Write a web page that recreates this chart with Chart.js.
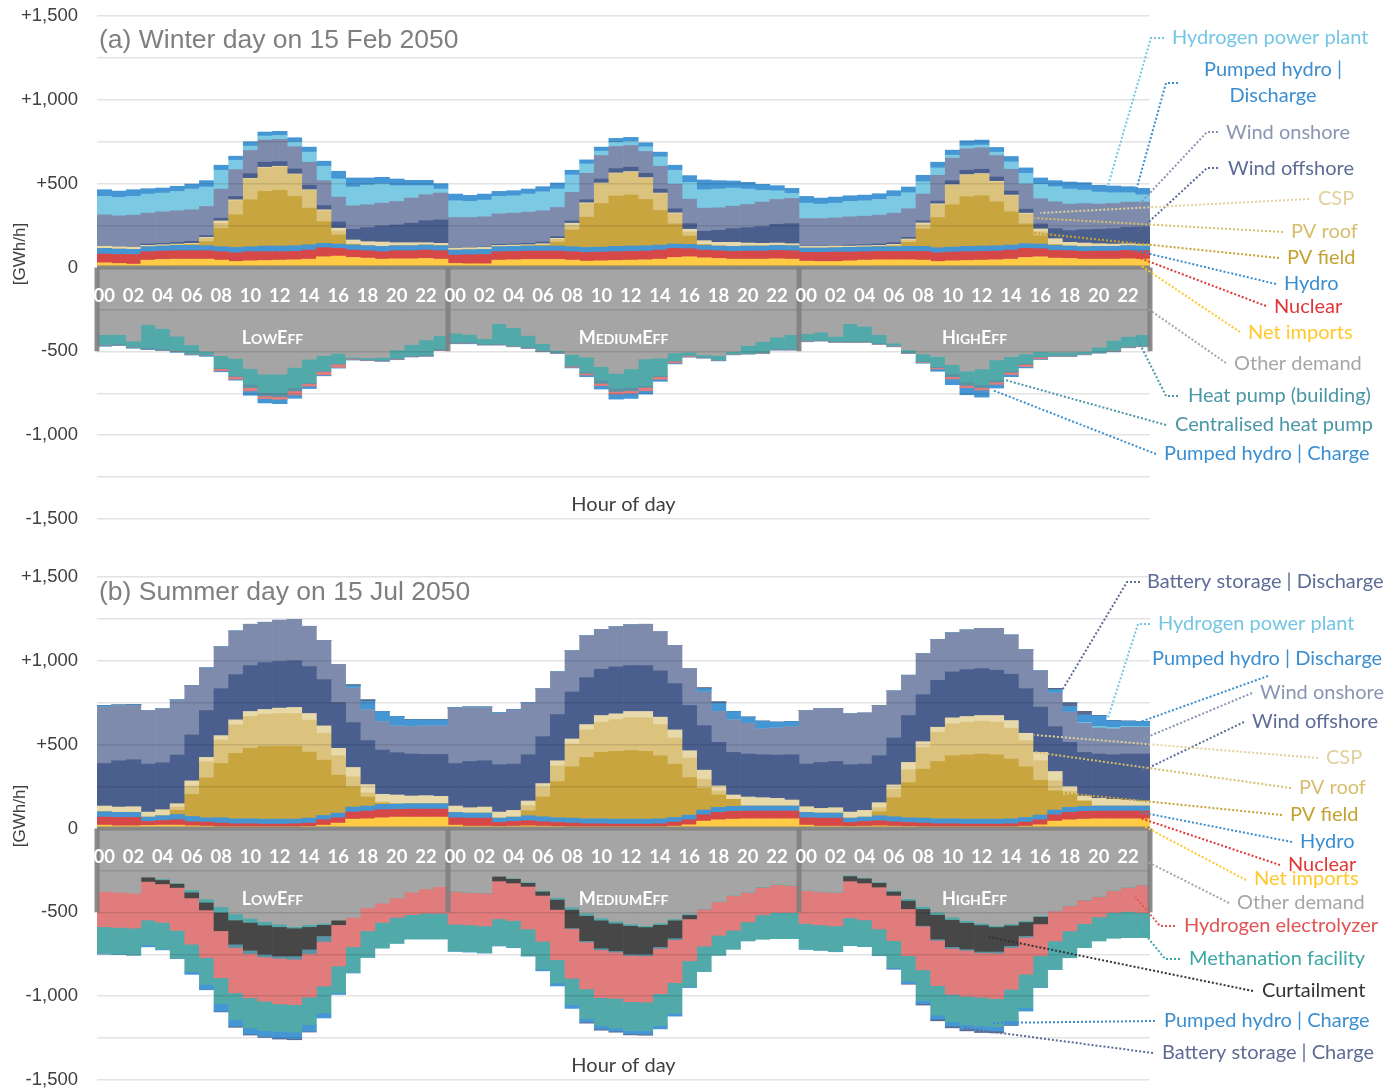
<!DOCTYPE html>
<html><head><meta charset="utf-8">
<script src="https://cdn.jsdelivr.net/npm/chart.js@4.4.1/dist/chart.umd.min.js"></script>
<style>
html,body{margin:0;padding:0;background:#fff;}
#wrap{position:relative;width:1400px;height:1090px;overflow:hidden;}
.panel{position:absolute;left:0;width:1400px;}
</style></head><body>
<div id="wrap">
<div class="panel" style="top:0;height:545px"><canvas id="cA"></canvas></div>
<div class="panel" style="top:545px;height:555px"><canvas id="cB"></canvas></div>
</div>
<script>
// ---------- categories / ticks ----------
const scenarioNames = ['LowEff', 'MediumEff', 'HighEff'];
const hourTicks = ['00','01','02','03','04','05','06','07','08','09','10','11','12','13','14','15','16','17','18','19','20','21','22','23'];
const HOURS = hourTicks.length;
const categories = scenarioNames.flatMap(s => hourTicks.map(h => s + ' ' + h));
const yTickValues = [-1500, -1000, -500, 0, 500, 1000, 1500];

// ---------- (a) winter, GWh/h, LowEff | MediumEff | HighEff ----------
const winNetImports = [
 28,24,20,44,48,50,50,50,44,36,40,42,44,46,50,64,68,60,56,50,52,52,54,50,
 24,22,22,44,46,48,48,48,44,38,40,42,44,46,50,60,64,58,54,50,50,50,52,50,
 38,36,36,40,44,46,46,46,44,36,40,42,44,46,50,60,64,56,54,50,50,50,52,50];
const winNuclear = [
 52,54,58,50,50,50,50,50,50,52,54,52,50,50,54,54,46,44,44,44,48,48,50,50,
 50,54,56,50,50,50,50,50,50,52,52,52,52,52,54,54,48,46,46,46,48,48,50,50,
 52,54,56,52,50,50,50,50,52,52,52,52,52,52,54,54,48,46,46,46,48,48,50,50];
const winHydro = [
 34,32,30,30,30,32,32,30,30,32,30,34,34,34,32,26,26,30,30,32,30,30,30,30,
 30,30,30,30,30,30,30,30,30,30,30,32,32,32,30,26,26,28,28,30,30,30,30,30,
 26,26,26,28,28,28,28,30,30,30,30,32,32,32,30,28,28,30,28,28,28,28,28,28];
const winPVField = [
 0,0,0,0,0,2,4,24,110,194,280,326,332,294,218,130,54,4,0,0,0,0,0,0,
 0,0,0,0,0,2,4,24,100,180,260,300,304,276,206,120,50,4,0,0,0,0,0,0,
 0,0,0,0,0,2,4,24,104,180,252,296,300,262,198,118,50,4,0,0,0,0,0,0];
const winPVRoof = [
 0,0,0,0,0,0,4,20,30,84,124,140,140,130,106,64,24,2,0,0,0,0,0,0,
 0,0,0,0,0,0,4,16,28,80,118,134,136,126,100,60,24,2,0,0,0,0,0,0,
 0,0,0,0,0,0,4,14,24,76,116,128,128,118,96,58,24,2,0,0,0,0,0,0];
const winCSP = [
 14,14,14,8,8,6,4,6,14,6,4,4,4,4,4,6,16,24,24,26,18,18,14,14,
 12,12,12,8,8,6,6,6,12,6,4,4,4,4,4,6,16,22,22,24,18,16,14,12,
 10,10,10,8,8,6,6,6,12,6,4,4,4,4,4,6,16,34,22,22,16,14,12,10];
const winWindOffshore = [
 2,2,2,8,8,10,12,10,16,20,28,30,28,30,26,26,38,64,84,96,106,116,132,140,
 2,2,2,6,6,8,10,10,14,18,24,26,26,26,24,24,34,56,72,82,92,100,112,120,
 2,2,2,6,6,8,10,10,12,16,24,26,26,26,24,24,30,60,70,80,86,92,98,104];
const winWindOnshore = [
 184,182,188,184,188,188,188,174,174,160,138,132,132,132,138,148,148,140,136,136,140,150,154,160,
 180,178,180,182,184,186,186,174,170,158,140,132,130,130,136,146,146,138,134,134,138,146,148,150,
 164,164,166,168,170,172,176,170,160,154,134,128,128,128,130,150,150,160,158,156,150,150,150,148];
const winH2Plant = [
 110,110,112,114,112,116,124,116,112,56,26,24,24,28,60,86,108,112,118,114,94,74,54,24,
 100,96,100,104,104,108,114,110,104,56,26,24,24,28,56,84,100,110,112,108,92,70,52,30,
 92,86,88,92,92,94,100,96,74,44,18,18,16,20,44,64,86,90,90,80,72,64,56,44];
const winPumpedDischarge = [
 40,38,40,32,30,30,30,38,30,24,26,24,24,26,30,30,46,54,42,40,40,32,32,32,
 40,36,36,30,30,30,30,36,28,24,24,24,24,24,28,30,40,58,50,42,40,36,30,30,
 40,36,36,34,34,34,34,34,38,34,30,30,30,28,32,32,38,36,42,44,40,40,36,38];
const winOtherDemand = [
 -400,-400,-440,-340,-364,-410,-462,-500,-526,-542,-602,-636,-636,-596,-546,-526,-512,-536,-540,-536,-492,-460,-432,-406,
 -391,-399,-425,-335,-359,-405,-455,-495,-519,-535,-591,-631,-605,-545,-541,-509,-505,-521,-525,-501,-465,-441,-415,-401,
 -395,-385,-411,-335,-351,-401,-451,-491,-515,-531,-579,-619,-605,-551,-531,-515,-501,-505,-505,-501,-475,-435,-411,-401];
const winHeatPump = [
 -60,-56,-32,-140,-122,-86,-50,-20,-74,-104,-94,-110,-114,-120,-140,-90,-60,-6,-8,-16,-50,-66,-88,-80,
 -54,-46,-30,-120,-106,-70,-40,-10,-66,-90,-80,-88,-110,-160,-104,-46,-20,-14,-26,-14,-46,-64,-70,-84,
 -40,-46,-28,-104,-88,-50,-14,-14,-44,-60,-56,-66,-94,-120,-88,-56,-30,-20,-20,-14,-30,-60,-60,-64];
const winCentralHP = [
 -4,-4,-4,-4,-4,-4,-4,-4,-4,-4,-20,-20,-20,-20,-6,-4,-4,-4,-4,-4,-4,-4,-6,-6,
 -4,-4,-4,-4,-4,-4,-4,-4,-4,-6,-20,-20,-20,-10,-6,-4,-2,-2,-2,-2,-2,-4,-4,-4,
 -4,-4,-4,-4,-4,-4,-4,-4,-4,-6,-16,-18,-18,-12,-6,-6,-4,-2,-2,-2,-2,-4,-4,-4];
const winElectrolyzer = [
 -2,-2,-2,-2,-2,-2,-2,-2,-12,-16,-20,-16,-16,-24,-16,-20,-20,-4,-2,-2,-2,-2,-2,-2,
 -2,-2,-2,-2,-2,-2,-2,-2,-6,-10,-14,-16,-16,-20,-16,-10,-6,-2,-2,-2,-2,-2,-2,-2,
 -2,-2,-2,-2,-2,-2,-2,-2,-4,-8,-14,-14,-14,-14,-14,-14,-10,-2,-2,-2,-2,-2,-2,-2];
const winPumpedCharge = [
 -4,-4,-4,-4,-4,-4,-4,-4,-6,-6,-26,-26,-26,-20,-14,-6,-4,-2,-2,-2,-2,-2,-2,-2,
 -4,-4,-2,-2,-2,-2,-2,-2,-4,-10,-20,-30,-30,-20,-12,-6,-2,-2,-2,-2,-2,-2,-2,-2,
 -2,-2,-2,-2,-2,-2,-2,-2,-4,-14,-34,-42,-42,-22,-12,-8,-4,-2,-2,-2,-2,-2,-2,-2];

// ---------- (b) summer ----------
const sumNetImports = [
 20,16,16,18,20,20,16,14,10,10,10,10,10,10,12,20,32,56,58,64,68,68,68,68,
 20,14,14,12,14,16,14,12,10,10,10,10,10,10,10,14,22,44,52,56,58,58,58,58,
 20,14,14,12,14,16,14,12,10,10,10,10,10,10,10,14,22,44,52,56,58,58,58,58];
const sumNuclear = [
 48,50,50,24,28,32,24,24,22,18,18,16,16,18,20,32,32,42,46,48,46,48,48,48,
 44,48,48,24,28,30,26,24,22,18,18,16,16,16,18,24,30,38,44,46,46,46,46,46,
 44,48,48,24,28,30,26,24,22,18,18,16,16,16,18,24,30,38,44,46,46,46,46,46];
const sumHydro = [
 32,30,30,26,28,32,32,26,32,30,30,30,30,28,30,26,28,30,30,32,32,32,32,32,
 32,30,30,26,26,30,30,28,30,30,30,30,30,30,30,28,28,28,30,30,30,30,30,30,
 32,30,30,26,26,30,30,28,30,30,30,30,30,30,30,28,28,28,30,30,30,30,30,30];
const sumPVField = [
 0,0,0,0,0,24,132,238,324,390,420,434,434,434,394,330,226,120,54,8,0,0,0,0,
 0,0,0,0,0,30,118,216,306,366,396,404,408,404,376,318,224,130,74,42,0,0,0,0,
 0,0,0,0,0,24,114,210,292,342,376,384,388,384,356,302,208,114,74,32,0,0,0,0];
const sumPVRoof = [
 0,0,0,0,0,20,50,96,140,170,190,192,196,196,190,160,116,60,24,6,0,0,0,0,
 0,0,0,0,0,30,56,94,136,164,180,190,196,200,186,156,116,54,24,0,0,0,0,0,
 0,0,0,0,0,24,50,76,130,174,190,194,196,194,184,156,116,60,24,0,0,0,0,0];
const sumCSP = [
 34,32,34,30,36,20,30,26,26,30,30,28,32,36,40,44,44,56,50,46,54,46,48,44,
 38,32,36,36,40,28,24,30,30,32,40,34,38,38,44,48,44,54,30,26,54,50,46,36,
 34,28,32,36,40,30,26,44,34,30,36,34,34,40,46,44,50,56,26,30,46,40,36,30];
const sumWindOffshore = [
 254,276,280,286,280,290,274,280,280,270,274,280,278,278,280,276,274,268,262,264,252,250,246,250,
 254,276,276,282,276,276,280,276,280,280,276,280,274,274,276,276,270,266,260,254,256,256,258,270,
 254,274,276,282,276,280,280,280,280,280,274,280,280,270,276,266,270,268,264,260,264,266,274,280];
const sumWindOnshore = [
 336,328,324,320,322,330,296,254,250,260,246,240,246,246,240,234,226,206,184,170,160,164,170,170,
 330,320,316,308,320,308,286,254,246,250,238,240,244,246,234,228,220,200,184,194,184,154,162,168,
 320,320,316,304,304,300,280,240,246,244,234,236,240,250,234,234,216,200,180,174,156,154,160,160];
const sumH2Plant = [
 0,0,0,0,0,0,0,0,0,0,0,0,0,0,0,0,0,0,0,0,0,0,0,0,
 0,0,0,0,0,0,0,0,0,0,0,0,0,0,0,0,0,0,0,0,0,0,0,0,
 0,0,0,0,0,0,0,0,0,0,0,0,0,0,0,0,0,0,0,4,8,8,6,4];
const sumPumpedDischarge = [
 8,4,4,0,0,0,0,0,0,0,0,0,0,0,0,0,0,14,50,60,56,40,36,36,
 4,4,4,4,4,4,0,0,0,0,0,0,0,0,0,0,0,20,50,50,36,46,34,30,
 0,0,0,0,0,0,0,0,0,0,0,0,0,0,0,0,0,20,34,46,64,40,30,30];
const sumBatteryDischarge = [
 0,0,0,0,0,0,0,0,0,0,0,0,0,0,0,0,0,4,8,0,0,0,0,0,
 0,0,0,0,0,0,0,0,0,0,0,0,0,0,0,0,0,4,6,0,0,0,0,0,
 0,0,0,0,0,0,0,0,0,0,0,0,0,0,0,0,0,6,20,20,0,0,0,0];
const sumOtherDemand = [
 -376,-380,-386,-290,-300,-324,-366,-420,-466,-510,-536,-556,-570,-586,-574,-566,-546,-530,-474,-446,-414,-380,-360,-346,
 -373,-379,-383,-285,-295,-319,-369,-413,-469,-505,-533,-553,-569,-579,-565,-539,-509,-479,-435,-399,-379,-349,-333,-339,
 -369,-375,-379,-279,-293,-319,-369,-419,-465,-499,-529,-549,-565,-579,-569,-549,-519,-489,-459,-425,-405,-369,-349,-335];
const sumHeatPump = [
 0,0,0,0,-6,-4,-14,-20,-34,-36,-24,-20,-16,-8,-12,-8,0,0,0,0,0,0,0,0,
 -2,-2,-2,0,-4,-4,-6,-10,-14,-14,-14,-12,-10,-8,-8,-8,-6,-2,-2,-2,-2,-2,-2,-2,
 -2,-2,-2,-4,-4,-4,-6,-10,-14,-14,-14,-12,-10,-8,-8,-8,-6,-2,-2,-2,-2,-2,-2,-2];
const sumCurtailment = [
 0,0,0,-26,-24,-24,-34,-46,-110,-144,-166,-174,-174,-166,-134,-66,-28,0,0,0,0,0,0,0,
 0,0,0,-28,-26,-22,-24,-60,-110,-150,-166,-164,-170,-162,-132,-106,-24,0,0,0,0,0,0,0,
 0,0,0,-30,-28,-26,-24,-50,-100,-146,-162,-158,-158,-146,-122,-82,-44,0,0,0,0,0,0,0];
const sumCentralHP = [
 0,0,0,0,0,0,0,0,0,-20,-20,-16,-14,-20,-26,-34,0,0,0,0,0,0,0,0,
 0,0,0,0,0,0,0,0,-4,-8,-10,-8,-8,-10,-10,-10,0,0,0,0,0,0,0,0,
 0,0,0,0,0,0,0,0,-4,-8,-10,-8,-8,-10,-10,-10,0,0,0,0,0,0,0,0];
const sumElectrolyzer = [
 -210,-210,-208,-230,-230,-256,-276,-284,-280,-270,-264,-264,-272,-270,-260,-266,-246,-176,-136,-114,-116,-134,-146,-160,
 -196,-194,-196,-226,-224,-254,-274,-300,-296,-280,-286,-276,-276,-276,-270,-256,-250,-220,-200,-206,-176,-164,-166,-160,
 -196,-198,-200,-220,-220,-250,-270,-280,-260,-270,-274,-274,-266,-272,-250,-220,-190,-180,-150,-140,-120,-130,-144,-164];
const sumMethanation = [
 -160,-160,-160,-150,-160,-164,-164,-160,-156,-160,-180,-176,-164,-164,-164,-160,-160,-154,-160,-154,-156,-146,-154,-154,
 -160,-160,-160,-160,-160,-160,-166,-138,-158,-178,-168,-178,-172,-172,-190,-184,-154,-150,-120,-114,-114,-146,-156,-156,
 -152,-150,-152,-164,-158,-158,-160,-152,-184,-176,-164,-170,-172,-166,-188,-200,-186,-168,-160,-144,-144,-154,-156,-150];
const sumPumpedCharge = [
 -4,-2,-2,-10,-4,-4,-16,-30,-44,-40,-36,-34,-40,-40,-40,-30,-10,-2,0,0,0,0,0,0,
 -2,-2,-2,-2,-2,-2,-10,-18,-22,-20,-20,-18,-20,-20,-18,-16,-6,-2,0,0,0,0,0,0,
 -2,-2,-2,-2,-2,-2,-8,-14,-18,-24,-26,-26,-28,-28,-24,-20,-4,-2,0,0,0,0,0,0];
const sumBatteryCharge = [
 0,0,0,0,0,0,0,-2,-4,-6,-6,-6,-6,-6,-4,0,0,0,0,0,0,0,0,0,
 0,0,0,0,0,0,0,0,0,-6,-6,-6,-6,-6,-2,0,0,0,0,0,0,0,0,0,
 0,0,0,0,0,0,-2,-4,-8,-10,-10,-10,-10,-10,-4,0,0,0,0,0,0,0,0,0];

// ---------- styles ----------
const C = {
  netImports:'#FFCB45', nuclear:'#D64848', hydro:'#4595D3', pvField:'#C9A540', pvRoof:'#DBC37D',
  csp:'#E8D9AA', windOff:'#4A5F8D', windOn:'#7F8BAD', h2Plant:'#7CC9E3', pumped:'#4596D4',
  battery:'#5C6A92', other:'#A5A5A5', heatPump:'#52A9AA', centralHP:'#5A93A4',
  electrolyzer:'#E07C7C', methanation:'#52A9AA', curtail:'#474747'
};
const winterSeries = [
  ['Net imports', winNetImports, C.netImports], ['Nuclear', winNuclear, C.nuclear], ['Hydro', winHydro, C.hydro],
  ['PV field', winPVField, C.pvField], ['PV roof', winPVRoof, C.pvRoof], ['CSP', winCSP, C.csp],
  ['Wind offshore', winWindOffshore, C.windOff], ['Wind onshore', winWindOnshore, C.windOn],
  ['Hydrogen power plant', winH2Plant, C.h2Plant], ['Pumped hydro | Discharge', winPumpedDischarge, C.pumped],
  ['Other demand', winOtherDemand, C.other], ['Heat pump (building)', winHeatPump, C.heatPump],
  ['Centralised heat pump', winCentralHP, C.centralHP], ['Hydrogen electrolyzer', winElectrolyzer, C.electrolyzer],
  ['Pumped hydro | Charge', winPumpedCharge, C.pumped]
];
const summerSeries = [
  ['Net imports', sumNetImports, C.netImports], ['Nuclear', sumNuclear, C.nuclear], ['Hydro', sumHydro, C.hydro],
  ['PV field', sumPVField, C.pvField], ['PV roof', sumPVRoof, C.pvRoof], ['CSP', sumCSP, C.csp],
  ['Wind offshore', sumWindOffshore, C.windOff], ['Wind onshore', sumWindOnshore, C.windOn],
  ['Hydrogen power plant', sumH2Plant, C.h2Plant], ['Pumped hydro | Discharge', sumPumpedDischarge, C.pumped],
  ['Battery storage | Discharge', sumBatteryDischarge, C.battery],
  ['Other demand', sumOtherDemand, C.other], ['Heat pump (building)', sumHeatPump, C.heatPump],
  ['Curtailment', sumCurtailment, C.curtail], ['Centralised heat pump', sumCentralHP, C.centralHP],
  ['Hydrogen electrolyzer', sumElectrolyzer, C.electrolyzer], ['Methanation facility', sumMethanation, C.methanation],
  ['Pumped hydro | Charge', sumPumpedCharge, C.pumped], ['Battery storage | Charge', sumBatteryCharge, C.battery]
];

const L = {
  h2:'#74C6E4', pumped:'#3B8ED0', windOn:'#8A94B4', windOff:'#5D6C96', csp:'#E2D09C', pvRoof:'#D7BD6C',
  pvField:'#C4A232', hydro:'#3B8ED0', nuclear:'#E03636', imports:'#FFC82C', other:'#A6A6A6',
  hp:'#4A96A6', battery:'#5D6C96', electro:'#E25353', meth:'#3AA7A5', curtail:'#333333'
};
// label text position (px), leader path (px), anchor in data space [bar index, value]
const labelsA = [
  {lines:['Hydrogen power plant'], x:1172, y:38, color:L.h2, pts:[[1164,38],[1151,38]], anchor:[68.6,480]},
  {lines:['Pumped hydro |','Discharge'], x:1273, y:70, lh:26, align:'center', color:L.pumped, pts:[[1178,83],[1166,83]], anchor:[70.5,444]},
  {lines:['Wind onshore'], x:1226, y:133, color:L.windOn, pts:[[1218,132],[1207,132]], anchor:[70.6,361]},
  {lines:['Wind offshore'], x:1228, y:169, color:L.windOff, pts:[[1218,168],[1207,168]], anchor:[70.6,206]},
  {lines:['CSP'], x:1318, y:199, color:L.csp, pts:[[1309,199]], anchor:[64.0,325]},
  {lines:['PV roof'], x:1291, y:232, color:L.pvRoof, pts:[[1283,232]], anchor:[63.6,295]},
  {lines:['PV field'], x:1287, y:258, color:L.pvField, pts:[[1279,258]], anchor:[63.6,206]},
  {lines:['Hydro'], x:1284, y:284, color:L.hydro, pts:[[1276,284]], anchor:[70.1,110]},
  {lines:['Nuclear'], x:1274, y:307, color:L.nuclear, pts:[[1266,306]], anchor:[70.6,63]},
  {lines:['Net imports'], x:1248, y:333, color:L.imports, pts:[[1240,332]], anchor:[70.8,15]},
  {lines:['Other demand'], x:1234, y:364, color:L.other, pts:[[1226,363]], anchor:[70.5,-194]},
  {lines:['Heat pump (building)'], x:1188, y:396, color:L.hp, pts:[[1178,396],[1166,396]], anchor:[70.6,-420]},
  {lines:['Centralised heat pump'], x:1175, y:425, color:L.hp, pts:[[1166,425]], anchor:[61.6,-671]},
  {lines:['Pumped hydro | Charge'], x:1164, y:454, color:L.pumped, pts:[[1156,454]], anchor:[60.7,-730]}
];
const labelsB = [
  {lines:['Battery storage | Discharge'], x:1147, y:37, color:L.battery, pts:[[1140,37],[1127,37]], anchor:[65.5,826]},
  {lines:['Hydrogen power plant'], x:1158, y:79, color:L.h2, pts:[[1150,79],[1138,79]], anchor:[68.6,653]},
  {lines:['Pumped hydro | Discharge'], x:1152, y:114, color:L.pumped, pts:[[1268,131]], anchor:[70.8,635]},
  {lines:['Wind onshore'], x:1260, y:148, color:L.windOn, pts:[[1252,148]], anchor:[70.8,527]},
  {lines:['Wind offshore'], x:1252, y:177, color:L.windOff, pts:[[1244,177]], anchor:[70.8,337]},
  {lines:['CSP'], x:1326, y:213, color:L.csp, pts:[[1318,213]], anchor:[63.6,558]},
  {lines:['PV roof'], x:1299, y:243, color:L.pvRoof, pts:[[1291,243]], anchor:[63.6,456]},
  {lines:['PV field'], x:1290, y:270, color:L.pvField, pts:[[1282,270]], anchor:[63.6,230]},
  {lines:['Hydro'], x:1300, y:297, color:L.hydro, pts:[[1292,297]], anchor:[70.8,98]},
  {lines:['Nuclear'], x:1288, y:320, color:L.nuclear, pts:[[1280,320]], anchor:[70.8,63]},
  {lines:['Net imports'], x:1254, y:334, color:L.imports, pts:[[1246,335]], anchor:[70.8,27]},
  {lines:['Other demand'], x:1237, y:358, color:L.other, pts:[[1229,358]], anchor:[70.8,-176]},
  {lines:['Hydrogen electrolyzer'], x:1184, y:381, color:L.electro, pts:[[1175,381],[1160,381]], anchor:[70.5,-408]},
  {lines:['Methanation facility'], x:1189, y:414, color:L.meth, pts:[[1180,414],[1165,414]], anchor:[70.5,-557]},
  {lines:['Curtailment'], x:1262, y:446, color:L.curtail, pts:[[1253,446]], anchor:[60.5,-647]},
  {lines:['Pumped hydro | Charge'], x:1164, y:476, color:L.pumped, pts:[[1155,476]], anchor:[60.6,-1160]},
  {lines:['Battery storage | Charge'], x:1162, y:508, color:L.battery, pts:[[1153,508]], anchor:[58.7,-1190]}
];

function fmtTick(v) {
  if (v === 0) return '0';
  const s = Math.abs(v).toLocaleString('en-US');
  return (v > 0 ? '+' : '-') + s;
}

function drawSmallCaps(ctx, text, cx, baseY, big, small) {
  const parts = [...text].map(ch => {
    const up = ch.toUpperCase();
    return {t: up, size: ch !== up ? small : big};
  });
  let w = 0;
  parts.forEach(p => { ctx.font = 'bold ' + p.size + 'px Lato'; p.w = ctx.measureText(p.t).width; w += p.w; });
  let xx = cx - w / 2;
  ctx.textAlign = 'left'; ctx.textBaseline = 'alphabetic';
  parts.forEach(p => { ctx.font = 'bold ' + p.size + 'px Lato'; ctx.fillText(p.t, xx, baseY); xx += p.w; });
}

function decor(cfg) {
  return {
    id: 'decor',
    afterDraw(chart) {
      const {ctx, chartArea: ca, scales: {x, y}} = chart;
      const bw = (ca.right - ca.left) / categories.length;
      ctx.save();
      // y tick labels
      ctx.fillStyle = '#404040'; ctx.font = '18.5px "Liberation Sans"';
      ctx.textAlign = 'right'; ctx.textBaseline = 'middle';
      yTickValues.forEach(v => ctx.fillText(fmtTick(v), ca.left - 19, y.getPixelForValue(v)));
      // grey frame around the "other demand" zone
      const y0 = y.getPixelForValue(0), yb = y.getPixelForValue(-500);
      ctx.strokeStyle = 'rgba(128,128,128,0.9)';
      ctx.lineWidth = 4;
      ctx.beginPath(); ctx.moveTo(ca.left, y0); ctx.lineTo(ca.right, y0); ctx.stroke();
      ctx.lineWidth = 5;
      for (let k = 0; k <= scenarioNames.length; k++) {
        const xx = ca.left + k * HOURS * bw;
        ctx.beginPath(); ctx.moveTo(xx, y0); ctx.lineTo(xx, yb); ctx.stroke();
      }
      // hour labels
      ctx.fillStyle = '#ffffff';
      ctx.font = 'bold 18.5px Lato'; ctx.textAlign = 'center'; ctx.textBaseline = 'middle';
      const yh = y.getPixelForValue(-170);
      categories.forEach((c, i) => {
        const h = i % HOURS;
        if (h % 2 === 0) ctx.fillText(hourTicks[h], x.getPixelForValue(i), yh);
      });
      // scenario labels
      const ys = y.getPixelForValue(-420) + 6;
      scenarioNames.forEach((s, k) => {
        const cx = x.getPixelForValue(k * HOURS + (HOURS - 1) / 2);
        drawSmallCaps(ctx, s, cx, ys, 18, 14);
      });
      // panel title
      ctx.fillStyle = '#7F7F7F'; ctx.font = '26.5px "Liberation Sans"';
      ctx.textAlign = 'left'; ctx.textBaseline = 'middle';
      ctx.fillText(cfg.title, ca.left + 2, cfg.titleY);
      // axis titles
      ctx.fillStyle = '#404040';
      ctx.font = '20px Lato'; ctx.textAlign = 'center';
      ctx.fillText('Hour of day', (ca.left + ca.right) / 2, cfg.xTitleY);
      ctx.save();
      ctx.translate(20, cfg.yTitleY); ctx.rotate(-Math.PI / 2);
      ctx.font = '17px "Liberation Sans"';
      ctx.fillText('[GWh/h]', 0, 0);
      ctx.restore();
      // data labels with dotted leaders
      cfg.labels.forEach(lb => {
        const ax = x.getPixelForValue(lb.anchor[0]), ay = y.getPixelForValue(lb.anchor[1]);
        ctx.strokeStyle = lb.color; ctx.lineWidth = 2; ctx.setLineDash([2, 2]);
        ctx.beginPath();
        ctx.moveTo(lb.pts[0][0], lb.pts[0][1]);
        for (let i = 1; i < lb.pts.length; i++) ctx.lineTo(lb.pts[i][0], lb.pts[i][1]);
        ctx.lineTo(ax, ay);
        ctx.stroke();
        ctx.setLineDash([]);
        ctx.fillStyle = lb.color; ctx.font = '20px Lato';
        ctx.textAlign = lb.align || 'left'; ctx.textBaseline = 'middle';
        lb.lines.forEach((t, i) => ctx.fillText(t, lb.x, lb.y + i * (lb.lh || 0)));
      });
      ctx.restore();
    }
  };
}

function buildChart(id, series, cfg) {
  const datasets = series.map(([label, data, color]) => ({
    label, data, backgroundColor: color, borderWidth: 0,
    categoryPercentage: 1, barPercentage: 1, stack: 'all'
  }));
  return new Chart(document.getElementById(id), {
    type: 'bar',
    data: {labels: categories, datasets},
    options: {
      responsive: true, maintainAspectRatio: false, animation: false,
      layout: {padding: {top: cfg.padTop, bottom: cfg.padBottom, left: 0, right: 250}},
      plugins: {legend: {display: false}, tooltip: {enabled: false}},
      scales: {
        x: {stacked: true, display: false, grid: {display: false}},
        y: {
          stacked: true, min: yTickValues[0], max: yTickValues[yTickValues.length - 1],
          afterFit(s) { s.width = 97; },
          border: {display: false},
          grid: {color: 'rgba(0,0,0,0.11)', lineWidth: 1.5, drawTicks: false, z: 1},
          ticks: {stepSize: 250, display: false}
        }
      }
    },
    plugins: [decor(cfg)]
  });
}

buildChart('cA', winterSeries, {padTop: 16, padBottom: 26, title: '(a) Winter day on 15 Feb 2050', titleY: 41, yTitleY: 254, xTitleY: 505, labels: labelsA});
buildChart('cB', summerSeries, {padTop: 32, padBottom: 20, title: '(b) Summer day on 15 Jul 2050', titleY: 48, yTitleY: 271, xTitleY: 521, labels: labelsB});
</script>
</body></html>
